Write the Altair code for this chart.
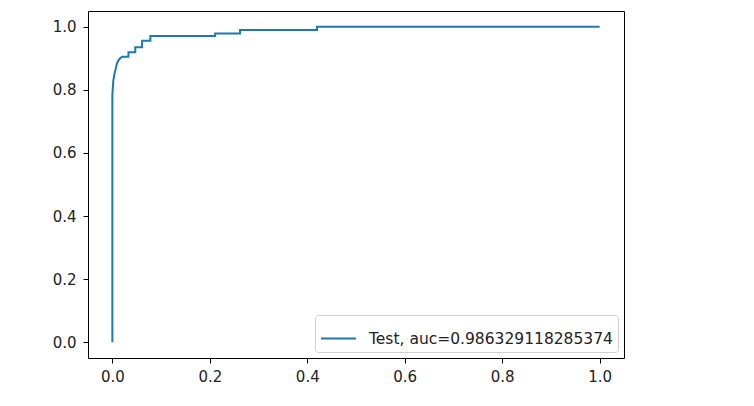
import altair as alt
import pandas as pd

# ROC curve points
fpr = [0.0, 0.0, 0.002, 0.004, 0.0096, 0.014, 0.020, 0.033, 0.033, 0.047, 0.047,
       0.061, 0.061, 0.078, 0.078, 0.211, 0.211, 0.262, 0.262, 0.42, 0.42, 1.0]
tpr = [0.0, 0.785, 0.83, 0.848, 0.885, 0.897, 0.905, 0.905, 0.919, 0.919, 0.935,
       0.935, 0.956, 0.956, 0.971, 0.971, 0.979, 0.979, 0.99, 0.99, 1.0, 1.0]
series_name = "Test, auc=0.986329118285374"
tick_values = [0.0, 0.2, 0.4, 0.6, 0.8, 1.0]

df = pd.DataFrame({"fpr": fpr, "tpr": tpr, "order": list(range(len(fpr))),
                   "series": [series_name] * len(fpr)})

FONT = "DejaVu Sans"

chart = alt.Chart(df).mark_line(strokeWidth=2, clip=True).encode(
    x=alt.X("fpr:Q", scale=alt.Scale(domain=[-0.05, 1.05], nice=False, zero=False),
            axis=alt.Axis(values=tick_values, format=".1f", title=None, grid=False,
                          tickSize=5, labelPadding=6, domain=False,
                          tickColor="#000", labelColor="#222", labelFontSize=15,
                          labelFont=FONT)),
    y=alt.Y("tpr:Q", scale=alt.Scale(domain=[-0.05, 1.05], nice=False, zero=False),
            axis=alt.Axis(values=tick_values, format=".1f", title=None, grid=False,
                          tickSize=5, labelPadding=7, domain=False,
                          tickColor="#000", labelColor="#222", labelFontSize=15,
                          labelFont=FONT)),
    order="order:Q",
    color=alt.Color("series:N", scale=alt.Scale(range=["#1f77b4"]),
                    legend=alt.Legend(title=None, orient="bottom-right", offset=6,
                                      symbolType="stroke", symbolSize=1225,
                                      symbolStrokeWidth=2, labelFontSize=15.5,
                                      labelFont=FONT, labelColor="#222",
                                      labelOffset=12, labelLimit=0, padding=5,
                                      strokeColor="#d0d0d0", cornerRadius=3,
                                      fillColor="white")),
).properties(
    width=536, height=347,
    padding={"left": 80, "top": 3, "right": 100, "bottom": 40},
    autosize=alt.AutoSizeParams(type="none"),
).configure_view(
    stroke="#000", strokeWidth=1
)

chart.save("out.html", embed_options={"renderer": "svg", "actions": False})
